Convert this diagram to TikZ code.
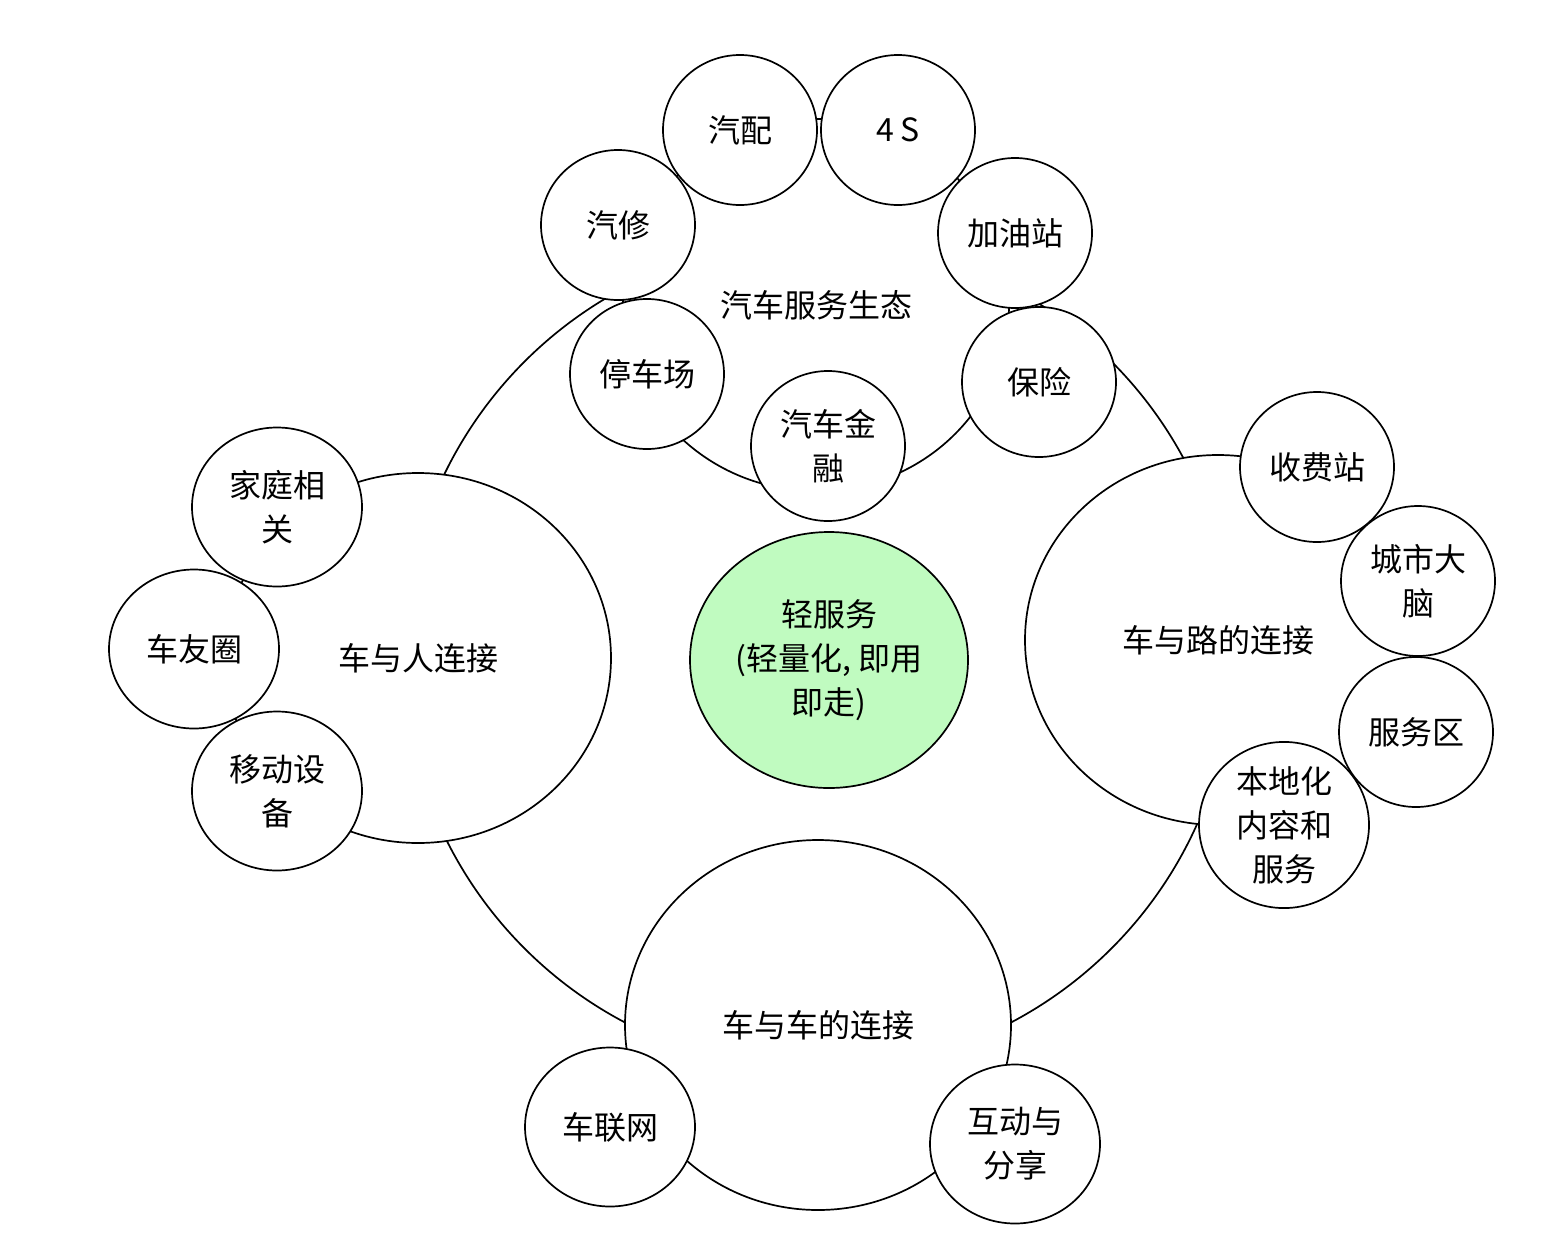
\documentclass[tikz,border=0pt]{standalone}
\usepackage{fontspec}
\setmainfont{Noto Sans CJK SC}
\usetikzlibrary{shapes.geometric}
\definecolor{lightgreen}{RGB}{192,251,192}
\begin{document}
\begin{tikzpicture}[x=1pt,y=-1pt,line width=1.7pt,
  every node/.style={font=\fontsize{32}{44}\selectfont, align=center, inner sep=0pt, outer sep=0pt},
  ringstyle/.style={draw, ellipse, minimum width=830pt, minimum height=830pt},
  grp/.style={draw, ellipse, fill=white, minimum width=386pt, minimum height=370pt},
  sm/.style={draw, ellipse, fill=white, minimum width=154pt, minimum height=150pt},
  md/.style={draw, ellipse, fill=white, minimum width=170pt, minimum height=159pt},
  core/.style={draw, ellipse, fill=lightgreen, minimum width=278pt, minimum height=256pt}]
\useasboundingbox[fill=white] (0,0) rectangle (1558,1240);
% background ring
\node[ringstyle] (ring) at (818,655) {};
% group circles
\node[grp, minimum height=372pt] (gtop) at (816,305) {汽车服务生态};
\node[grp] (gleft) at (418,658) {车与人连接};
\node[grp] (gright) at (1218,640) {车与路的连接};
\node[grp] (gbottom) at (818,1025) {车与车的连接};
% top group items
\node[sm] (qixiu) at (618,225) {汽修};
\node[sm] (qipei) at (740,130) {汽配};
\node[sm] (fours) at (898,130) {4 S};
\node[sm] (jiayou) at (1015,233) {加油站};
\node[sm] (tingche) at (647,374) {停车场};
\node[sm] (baoxian) at (1039,382) {保险};
\node[sm] (jinrong) at (828,446) {汽车金\\融};
% left group items
\node[md] (jiating) at (277,507) {家庭相\\关};
\node[md] (cheyou) at (194,649) {车友圈};
\node[md] (yidong) at (277,791) {移动设\\备};
% right group items
\node[sm] (shoufei) at (1317,467) {收费站};
\node[sm] (chengshi) at (1418,581) {城市大\\脑};
\node[sm] (fuwu) at (1416,732) {服务区};
\node[md] (bendi) at (1284,825) {本地化\\内容和\\服务};
% bottom group items
\node[md] (chelian) at (610,1127) {车联网};
\node[md] (hudong) at (1015,1144) {互动与\\分享};
% core
\node[core] (center) at (829,660) {轻服务\\(轻量化, 即用\\即走)};
\end{tikzpicture}
\end{document}
